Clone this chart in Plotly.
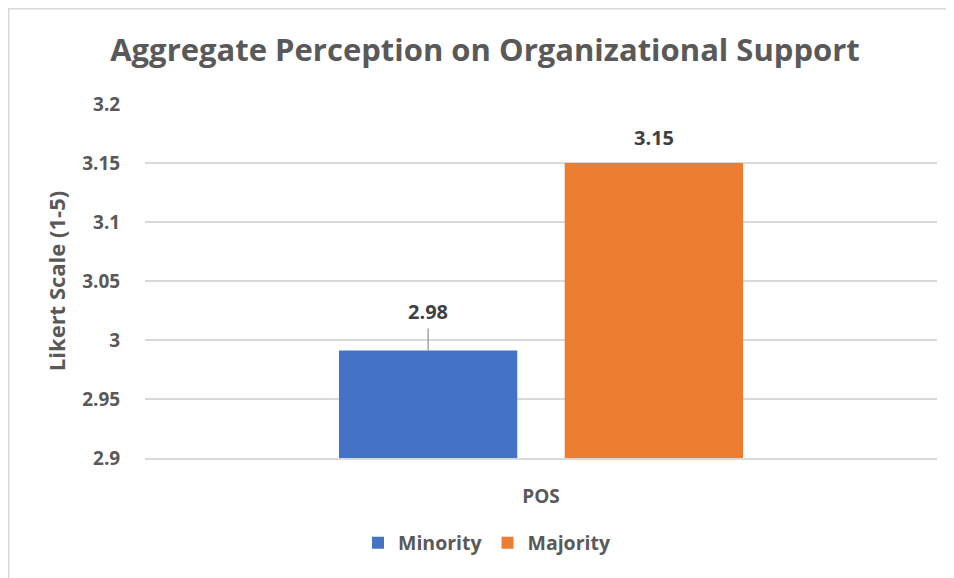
import plotly.graph_objects as go

categories = ["POS"]
series_names = ["Minority", "Majority"]
minority_values = [2.991]
majority_values = [3.15]
label_texts = ["2.98", "3.15"]
colors = ["#4472C4", "#ED7D31"]
y_ticks = [2.9, 2.95, 3.0, 3.05, 3.1, 3.15, 3.2]
y_ticktext = ["2.9", "2.95", "3", "3.05", "3.1", "3.15", "3.2"]

FONT = "Open Sans"
GRAY = "#595959"

# the page body has an 8px margin, so the figure is drawn 8px smaller
OFF = 8
W, H = 954 - OFF, 578 - OFF
L, R, T, B = 137, 17, 96, 120
pw, ph = W - L - R, H - T - B

bargap = 0.43
bargroupgap = 0.21

fig = go.Figure()
for name, vals, col in zip(series_names, [minority_values, majority_values], colors):
    fig.add_trace(go.Bar(x=[0] * len(vals), y=vals, name=name, marker_color=col,
                         marker_line_width=0, hoverinfo="y"))

slot = (1 - bargap) / 2
offsets = [-slot / 2, slot / 2]
all_vals = [minority_values[0], majority_values[0]]

annotations = [
    dict(x=offsets[0], y=all_vals[0], text="<b>" + label_texts[0] + "</b>",
         showarrow=True, arrowhead=0, arrowcolor="#a6a6a6", arrowwidth=1.5,
         ax=0, ay=-39, font=dict(family=FONT, size=20, color="#404040"),
         xref="x", yref="y", borderpad=3),
    dict(x=offsets[1], y=all_vals[1], text="<b>" + label_texts[1] + "</b>",
         showarrow=False, yshift=26,
         font=dict(family=FONT, size=20, color="#404040"), xref="x", yref="y"),
]

fig.update_layout(
    width=W, height=H,
    margin=dict(l=L, r=R, t=T, b=B, autoexpand=False),
    paper_bgcolor="white", plot_bgcolor="white",
    barmode="group", bargap=bargap, bargroupgap=bargroupgap,
    title=dict(text="<b>Aggregate Perception on Organizational Support</b>",
               x=(485 - OFF) / W, xanchor="center", xref="container",
               y=1 - (50 - OFF) / H, yanchor="middle", yref="container",
               font=dict(family=FONT, size=31, color=GRAY)),
    xaxis=dict(range=[-0.5, 0.5], tickvals=[0], ticktext=categories,
               tickfont=dict(family=FONT, size=19, color=GRAY, weight="bold"),
               showgrid=False, showline=True, linecolor="#d9d9d9", linewidth=1.5,
               ticks="outside", ticklen=20, tickcolor="white", zeroline=False),
    yaxis=dict(range=[2.9, 3.2], tickvals=y_ticks, ticktext=y_ticktext,
               tickfont=dict(family=FONT, size=19, color=GRAY, weight="bold"),
               showgrid=True, gridcolor="#d9d9d9", gridwidth=1.5, zeroline=False,
               ticks="outside", ticklen=20, tickcolor="white",
               title=dict(text="<b>Likert Scale (1-5)</b>", standoff=10,
                          font=dict(family=FONT, size=22, color=GRAY))),
    legend=dict(orientation="h", x=(487 - 145) / pw, xanchor="center",
                y=-(543 - 458) / ph, yanchor="middle",
                font=dict(family=FONT, size=19.5, color=GRAY, weight="bold")),
    annotations=annotations,
    showlegend=True,
)

# outer chart frame (light gray), partly cropped like the reference
fig.add_shape(type="rect", xref="paper", yref="paper",
              x0=(0.75 - L) / pw, x1=(W + 10 - L) / pw,
              y0=-(H + 10 - (T + ph)) / ph, y1=((T + ph) - 0.75) / ph,
              line=dict(color="#d9d9d9", width=1.5), layer="below")

fig.write_html("out.html")
